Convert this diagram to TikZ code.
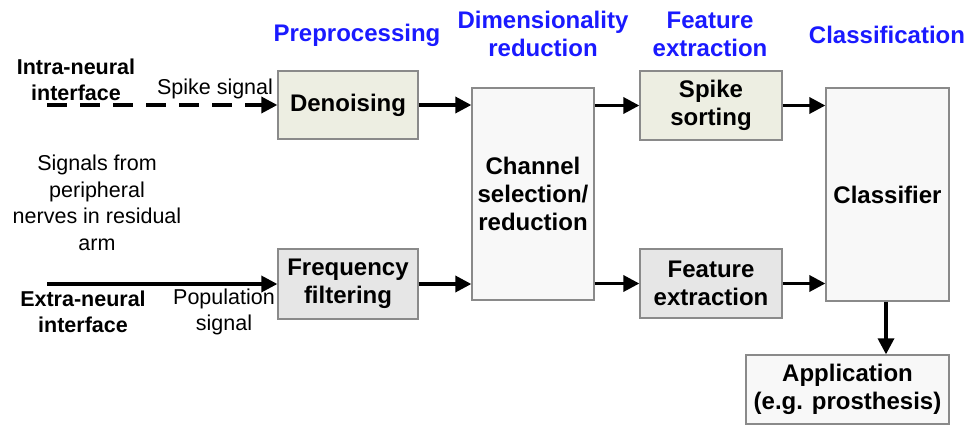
\documentclass[tikz,border=0pt]{standalone}
\usepackage{fontspec}
\setmainfont{Liberation Sans}
\usetikzlibrary{arrows.meta}
\definecolor{beigebox}{HTML}{EDEEE2}
\definecolor{greybox}{HTML}{E6E6E6}
\definecolor{whitebox}{HTML}{F8F8F8}
\definecolor{edgegrey}{HTML}{8A8A8A}
\definecolor{headblue}{HTML}{1A1AFF}
\begin{document}
\begin{tikzpicture}[x=1pt,y=-1pt,
  box/.style={draw=edgegrey,line width=1.3pt,align=center,inner sep=0pt,
    font=\fontsize{24}{28}\selectfont\bfseries},
  plain/.style={align=center,inner sep=0pt,font=\fontsize{21.5}{26.5}\selectfont},
  bold/.style={align=center,inner sep=0pt,font=\fontsize{21.5}{26.5}\selectfont\bfseries},
  head/.style={align=center,inner sep=0pt,text=headblue,font=\fontsize{24}{28}\selectfont\bfseries},
  flow/.style={line width=3.4pt,-{Triangle[length=16pt,width=16pt]}}]
\useasboundingbox (0,0) rectangle (969,426);

% processing blocks
\node[box,fill=beigebox,minimum width=140pt,minimum height=68pt] (den) at (348,105) {Denoising};
\node[box,fill=greybox,minimum width=140pt,minimum height=70pt] (freq) at (348,284) {Frequency\\filtering};
\node[box,fill=whitebox,minimum width=122pt,minimum height=212pt] (chan) at (533,194) {Channel\\selection/\\reduction};
\node[box,fill=beigebox,minimum width=142pt,minimum height=69pt] (spk) at (711,105.5) {Spike\\sorting};
\node[box,fill=greybox,minimum width=142pt,minimum height=69pt] (feat) at (711,283.5) {Feature\\extraction};
\node[box,fill=whitebox,minimum width=123pt,minimum height=213pt] (cls) at (887.5,194.5) {Classifier};
\node[box,fill=whitebox,minimum width=203pt,minimum height=69pt] (app) at (847.5,389.5) {Application\\(e.g. prosthesis)};

% stage headings
\node[head] (h1) at (357,35) {Preprocessing};
\node[head] (h2) at (543,34) {Dimensionality\\reduction};
\node[head] (h3) at (710,34) {Feature\\extraction};
\node[head] (h4) at (887,35) {Classification};

% inputs
\coordinate (inA) at (47,105);
\coordinate (inB) at (47,284);
\node[bold] (intra) at (76,80) {Intra-neural\\interface};
\node[plain] (spsig) at (215,89) {Spike signal};
\node[plain] (periph) at (97,203) {Signals from\\peripheral\\nerves in residual\\arm};
\node[bold] (extra) at (83,312) {Extra-neural\\interface};
\node[plain] (popsig) at (224,312) {Population\\signal};

% connectors
\draw[flow,dash pattern=on 20pt off 13pt] (inA) -- (den.west);
\draw[flow] (inB) -- (freq.west);
\draw[flow] (den.east) -- (den.east -| chan.west);
\draw[flow] (freq.east) -- (freq.east -| chan.west);
\draw[flow] (chan.east |- spk.west) -- (spk.west);
\draw[flow] (chan.east |- feat.west) -- (feat.west);
\draw[flow] (spk.east) -- (spk.east -| cls.west);
\draw[flow] (feat.east) -- (feat.east -| cls.west);
\draw[flow] (cls.south -| app.north) ++(38.5,0) coordinate (down) -- (down |- app.north);
\end{tikzpicture}
\end{document}
